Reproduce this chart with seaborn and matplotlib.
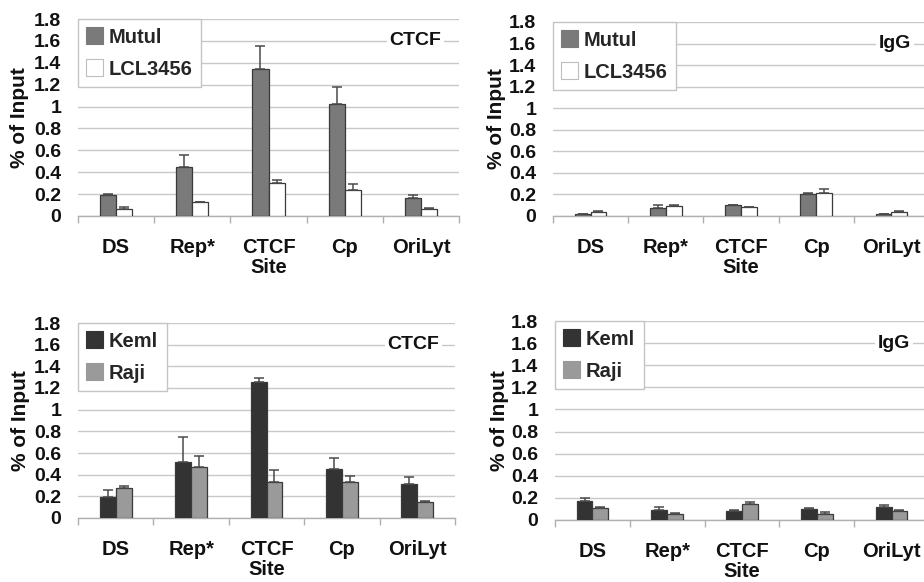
import matplotlib
matplotlib.use("Agg")
import matplotlib.pyplot as plt
import matplotlib.transforms as mtransforms
from matplotlib.patches import Patch
import numpy as np
import pandas as pd
import seaborn as sns

# ---------------- data ----------------
sites = ["DS", "Rep*", "CTCF\nSite", "Cp", "OriLyt"]

mutul_ctcf = [0.19, 0.445, 1.345, 1.025, 0.165]
mutul_ctcf_err = [0.01, 0.115, 0.21, 0.155, 0.03]
lcl_ctcf = [0.065, 0.125, 0.305, 0.235, 0.065]
lcl_ctcf_err = [0.015, 0.0, 0.025, 0.055, 0.01]

mutul_igg = [0.015, 0.07, 0.10, 0.20, 0.015]
mutul_igg_err = [0.005, 0.03, 0.005, 0.01, 0.005]
lcl_igg = [0.035, 0.09, 0.08, 0.21, 0.037]
lcl_igg_err = [0.008, 0.01, 0.007, 0.045, 0.006]

keml_ctcf = [0.19, 0.52, 1.255, 0.455, 0.315]
keml_ctcf_err = [0.07, 0.23, 0.04, 0.10, 0.06]
raji_ctcf = [0.28, 0.47, 0.33, 0.33, 0.148]
raji_ctcf_err = [0.015, 0.10, 0.11, 0.06, 0.012]

keml_igg = [0.17, 0.087, 0.084, 0.10, 0.117]
keml_igg_err = [0.027, 0.027, 0.006, 0.01, 0.022]
raji_igg = [0.11, 0.05, 0.145, 0.057, 0.08]
raji_igg_err = [0.005, 0.01, 0.021, 0.018, 0.01]

yticks = [0, 0.2, 0.4, 0.6, 0.8, 1, 1.2, 1.4, 1.6, 1.8]
ytick_labels = ["0", "0.2", "0.4", "0.6", "0.8", "1", "1.2", "1.4", "1.6", "1.8"]

# ---------------- style ----------------
sns.set_theme(style="white")
plt.rcParams["font.family"] = ["Liberation Sans", "DejaVu Sans"]
plt.rcParams["font.weight"] = "bold"

fig = plt.figure(figsize=(9.24, 5.82), dpi=100)
W, H = 924, 582


def px_axes(left, right, y0, y18):
    return fig.add_axes([left / W, (H - y0) / H, (right - left) / W, (y0 - y18) / H])


panels = [
    dict(rect=(78, 459, 216, 19), names=["Mutul", "LCL3456"],
         vals=[mutul_ctcf, lcl_ctcf], errs=[mutul_ctcf_err, lcl_ctcf_err],
         colors=["#7a7a7a", "#ffffff"], tag="CTCF", tagx=0.885, ylx=-0.128),
    dict(rect=(553, 929, 216, 22), names=["Mutul", "LCL3456"],
         vals=[mutul_igg, lcl_igg], errs=[mutul_igg_err, lcl_igg_err],
         colors=["#7a7a7a", "#ffffff"], tag="IgG", tagx=0.91, ylx=-0.124),
    dict(rect=(78, 455, 518, 323), names=["Keml", "Raji"],
         vals=[keml_ctcf, raji_ctcf], errs=[keml_ctcf_err, raji_ctcf_err],
         colors=["#333333", "#9a9a9a"], tag="CTCF", tagx=0.89, ylx=-0.128),
    dict(rect=(555, 929, 520, 321), names=["Keml", "Raji"],
         vals=[keml_igg, raji_igg], errs=[keml_igg_err, raji_igg_err],
         colors=["#333333", "#9a9a9a"], tag="IgG", tagx=0.906, ylx=-0.124),
]

for p in panels:
    ax = px_axes(*p["rect"])
    rows = []
    for name, vals in zip(p["names"], p["vals"]):
        for s, v in zip(sites, vals):
            rows.append({"site": s, "series": name, "value": v})
    df = pd.DataFrame(rows)
    sns.barplot(data=df, x="site", y="value", hue="series", order=sites,
                hue_order=p["names"], palette=p["colors"], width=0.42,
                edgecolor="#3a3a3a", linewidth=0.9, errorbar=None,
                legend=False, ax=ax, zorder=3)
    # upper-only error bars from the bars drawn by seaborn
    for cont, err in zip(ax.containers, p["errs"]):
        xs = [b.get_x() + b.get_width() / 2 for b in cont.patches]
        hs = [b.get_height() for b in cont.patches]
        ax.errorbar(xs, hs, yerr=[np.zeros(len(err)), err], fmt="none",
                    ecolor="#4a4a4a", elinewidth=1.1, capsize=3.5,
                    capthick=1.1, zorder=4)
    ax.set_xlim(-0.5, 4.5)
    ax.set_ylim(0, 1.8)
    ax.set_yticks(yticks)
    ax.set_yticklabels(ytick_labels, fontsize=14, fontweight="bold")
    ax.set_xticks(range(len(sites)))
    ax.set_xticklabels(sites, fontsize=14.5, fontweight="bold", linespacing=1.08)
    ax.set_xticks(np.arange(-0.5, 5.0, 1.0), minor=True)
    ax.tick_params(axis="x", which="major", length=0, pad=16, colors="#111111")
    ax.tick_params(axis="x", which="minor", length=5, width=1, color="#b0b0b0",
                   direction="out", bottom=True)
    ax.tick_params(axis="y", length=0, pad=12, colors="#111111")
    ax.set_xlabel("")
    ax.set_ylabel("% of Input", fontsize=15, fontweight="bold", color="#111111")
    ax.yaxis.set_label_coords(p["ylx"], 0.5)
    ax.yaxis.label.set_va("bottom")
    ax.grid(axis="y", color="#c8c8c8", linewidth=1.0, zorder=0)
    ax.set_axisbelow(True)
    for side in ["top", "right", "left"]:
        ax.spines[side].set_visible(False)
    ax.spines["bottom"].set_color("#b0b0b0")
    ax.spines["bottom"].set_linewidth(1.0)
    ax.spines["bottom"].set_zorder(2)

    handles = [Patch(facecolor=c, edgecolor="#bdbdbd" if c == "#ffffff" else c,
                     linewidth=0.8) for c in p["colors"]]
    leg = ax.legend(handles, p["names"], loc="upper left", bbox_to_anchor=(0.0, 1.0),
                    borderaxespad=0.0, frameon=True, fancybox=False, framealpha=1,
                    edgecolor="#c4c4c4", facecolor="white",
                    prop={"size": 14.5, "weight": "bold"}, handlelength=0.82,
                    handleheight=0.9, handletextpad=0.3, labelspacing=0.62,
                    borderpad=0.42)
    leg.get_frame().set_linewidth(1.0)
    leg.set_zorder(5)

    trans = mtransforms.blended_transform_factory(ax.transAxes, ax.transData)
    ax.text(p["tagx"], 1.6, p["tag"], transform=trans, ha="center", va="center",
            fontsize=14, fontweight="bold", color="#111111", zorder=6,
            bbox=dict(facecolor="white", edgecolor="none", pad=2))

fig.savefig("out.png", dpi=100)
